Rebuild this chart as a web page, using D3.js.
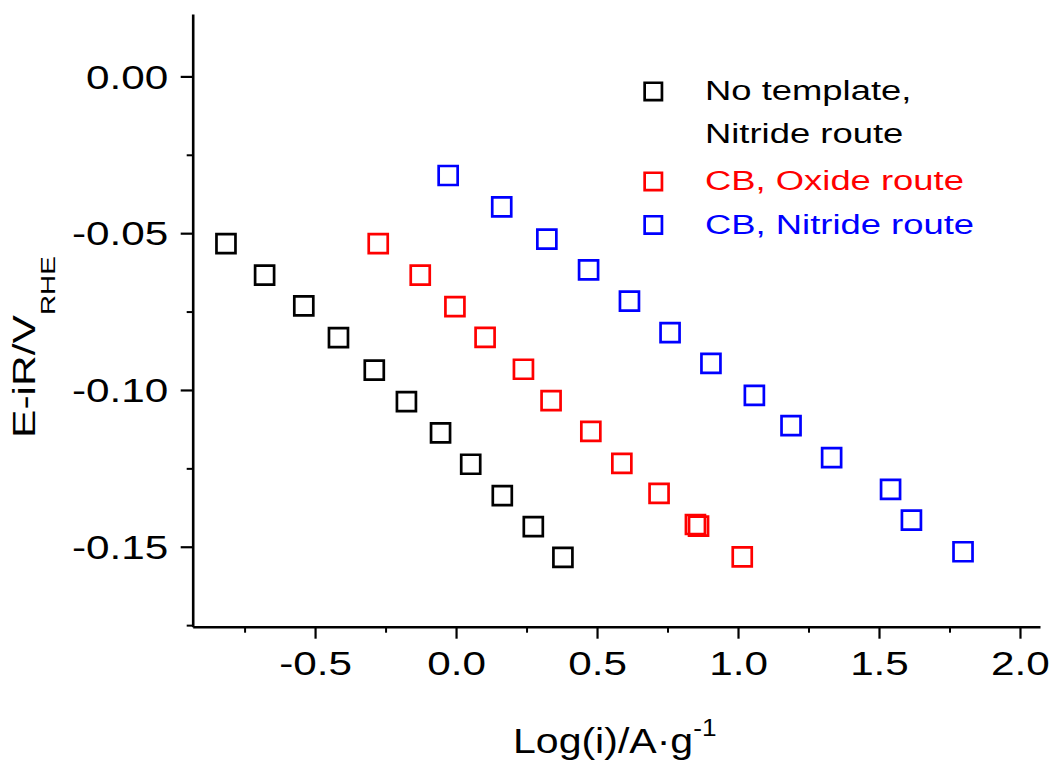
<!DOCTYPE html>
<html><head><meta charset="utf-8">
<script src="https://cdn.jsdelivr.net/npm/d3@7"></script>
<style>
body{margin:0;background:#fff}
svg{display:block}
text{font-family:Arial,"Liberation Sans",sans-serif}
</style>
</head><body>
<svg id="chart" width="1052" height="762"></svg>
<script>
// ---- data ----
const seriesNames = ["No template, Nitride route", "CB, Oxide route", "CB, Nitride route"];
const seriesColors = ["#000000", "#ff0000", "#0000ff"];
const blackLogI = [-0.816, -0.679, -0.540, -0.417, -0.290, -0.176, -0.055, 0.052, 0.164, 0.274, 0.379];
const blackE    = [-0.0533, -0.0634, -0.0732, -0.0833, -0.0937, -0.1037, -0.1137, -0.1237, -0.1337, -0.1436, -0.1534];
const redLogI   = [-0.276, -0.127, -0.004, 0.103, 0.239, 0.337, 0.478, 0.588, 0.720, 0.849, 0.860, 1.015];
const redE      = [-0.0533, -0.0634, -0.0734, -0.0832, -0.0934, -0.1034, -0.1132, -0.1234, -0.1330, -0.1429, -0.1434, -0.1532];
const blueLogI  = [-0.028, 0.162, 0.322, 0.470, 0.615, 0.759, 0.904, 1.058, 1.188, 1.332, 1.541, 1.615, 1.798];
const blueE     = [-0.0316, -0.0416, -0.0519, -0.0617, -0.0717, -0.0817, -0.0915, -0.1017, -0.1114, -0.1216, -0.1317, -0.1415, -0.1516];
const xTicks = [-0.5, 0, 0.5, 1.0, 1.5, 2.0];
const xTickLabels = ["-0.5", "0.0", "0.5", "1.0", "1.5", "2.0"];
const xMinorTicks = [-0.75, -0.25, 0.25, 0.75, 1.25, 1.75];
const yTicks = [0, -0.05, -0.10, -0.15];
const yTickLabels = ["0.00", "-0.05", "-0.10", "-0.15"];
const yMinorTicks = [-0.025, -0.075, -0.125, -0.175];
const legendLines = [["No template,", "Nitride route"], ["CB, Oxide route"], ["CB, Nitride route"]];

const series = [
  {name: seriesNames[0], color: seriesColors[0], xs: blackLogI, ys: blackE},
  {name: seriesNames[1], color: seriesColors[1], xs: redLogI, ys: redE},
  {name: seriesNames[2], color: seriesColors[2], xs: blueLogI, ys: blueE}
];

// ---- layout ----
const SX = 1.3; // horizontal stretch of the glyphs in the reference
const svg = d3.select("#chart");
const x = d3.scaleLinear().domain([-0.934, 2.071]).range([192.7, 1040]);
const y = d3.scaleLinear().domain([-0.1755, 0.0199]).range([626.7, 14]);

// minor ticks
svg.append("g").attr("transform", `translate(0,${y.range()[0]})`)
  .call(d3.axisBottom(x).tickValues(xMinorTicks).tickSize(6).tickFormat(""))
  .call(g => g.select(".domain").remove())
  .call(g => g.selectAll("line").attr("stroke-width", 2));
svg.append("g").attr("transform", `translate(${x.range()[0]},0)`)
  .call(d3.axisLeft(y).tickValues(yMinorTicks).tickSize(6).tickFormat(""))
  .call(g => g.select(".domain").remove())
  .call(g => g.selectAll("line").attr("stroke-width", 2));

// major axes
const gx = svg.append("g").attr("transform", `translate(0,${y.range()[0]})`)
  .call(d3.axisBottom(x).tickValues(xTicks).tickSize(12).tickSizeOuter(0)
        .tickFormat((d, i) => xTickLabels[i]));
gx.select(".domain").attr("stroke-width", 2.6);
gx.selectAll("line").attr("stroke-width", 2.2);
gx.selectAll("text").attr("font-size", 32.5).attr("fill", "#000")
  .attr("font-family", "Arial, 'Liberation Sans', sans-serif")
  .attr("y", 48.3).attr("dy", 0).attr("transform", `scale(${SX},1)`);

const gy = svg.append("g").attr("transform", `translate(${x.range()[0]},0)`)
  .call(d3.axisLeft(y).tickValues(yTicks).tickSize(12).tickSizeOuter(0)
        .tickFormat((d, i) => yTickLabels[i]));
gy.select(".domain").attr("stroke-width", 2.6);
gy.selectAll("line").attr("stroke-width", 2.2);
gy.selectAll("text").attr("font-size", 32.5).attr("fill", "#000")
  .attr("font-family", "Arial, 'Liberation Sans', sans-serif")
  .attr("x", -24.5 / SX).attr("dy", "0.36em").attr("transform", `scale(${SX},1)`);

// ---- data points ----
const sym = d3.symbol(d3.symbolSquare, 19 * 19);
series.forEach(s => {
  svg.append("g").selectAll("path")
    .data(s.xs.map((v, i) => [v, s.ys[i]]))
    .join("path")
    .attr("d", sym)
    .attr("transform", d => `translate(${x(d[0])},${y(d[1])})`)
    .attr("fill", "none")
    .attr("stroke", s.color)
    .attr("stroke-width", 2.7);
});

// ---- legend ----
const legendBaselines = [[100, 143.3], [190], [233.5]];
const legSym = d3.symbol(d3.symbolSquare, 17.3 * 17.3);
legendLines.forEach((lines, k) => {
  const g = svg.append("g");
  g.append("path").attr("d", legSym)
    .attr("transform", `translate(653.3,${legendBaselines[k][0] - 8.6})`)
    .attr("fill", "none").attr("stroke", seriesColors[k]).attr("stroke-width", 2.7);
  lines.forEach((t, j) => {
    g.append("g").attr("transform", `translate(705,${legendBaselines[k][j]}) scale(${SX},1)`)
      .append("text").attr("font-size", 28).attr("fill", seriesColors[k]).text(t);
  });
});

// ---- axis titles ----
const xt = svg.append("g").attr("transform", `translate(513,752.7) scale(1.14,1)`)
  .append("text").attr("font-size", 36).attr("fill", "#000");
xt.append("tspan").text("Log(i)/A·g");
xt.append("tspan").attr("font-size", 23).attr("dy", -17).text("-1");

const yt = svg.append("g").attr("transform", `translate(35.3,438) rotate(-90) scale(1.33,1)`)
  .append("text").attr("font-size", 32).attr("fill", "#000");
yt.append("tspan").text("E-iR/V");
yt.append("tspan").attr("font-size", 21).attr("dy", 20).text("RHE");
</script>
</body></html>
